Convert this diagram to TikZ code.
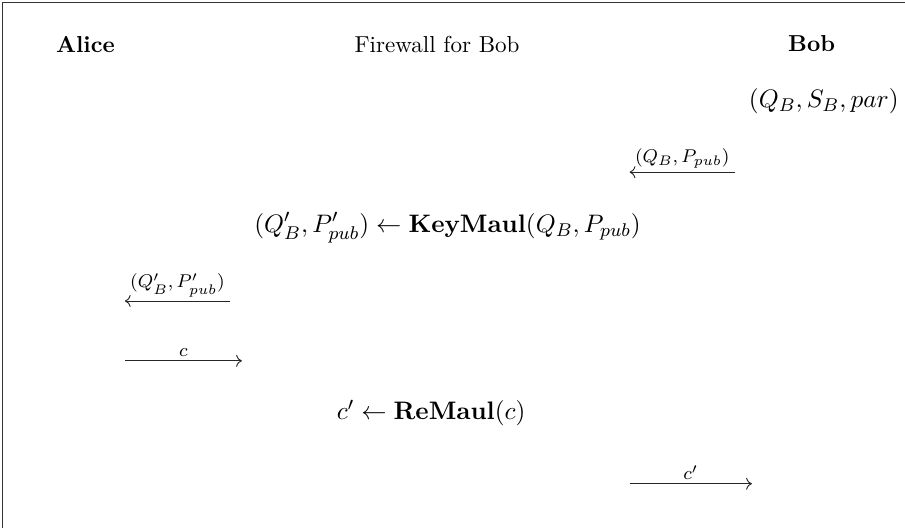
\documentclass[tikz,border=0pt]{standalone}
\usepackage{amsmath,amssymb}
\usepackage{tikz}
\usetikzlibrary{arrows.meta,positioning,calc}
\tikzset{
  party/.style={font=\bfseries,inner sep=2pt},
  calcline/.style={font=\fontsize{11.2}{13}\selectfont,inner sep=2pt},
  msg/.style={->,draw=black!85,thin},
  msglbl/.style={font=\footnotesize,above,inner sep=1.5pt},
}
\begin{document}
\begin{tikzpicture}
  \useasboundingbox (0,0) rectangle (13.77,-8.02);
  \draw[black!80,thin] (0.03,-8.1) -- (0.03,-0.03) -- (13.9,-0.03);
  % parties
  \node[party] (alice) at (1.30,-0.67) {Alice};
  \node[inner sep=2pt] (fw) at (6.65,-0.67) {Firewall for Bob};
  \node[party] (bob) at (12.35,-0.67) {Bob};
  \node[calcline,anchor=east] (keys) at (13.75,-1.54) {$(Q_B,S_B,par)$};
  % computations
  \node[calcline] (keymaul) at (6.81,-3.47) {$(Q'_B,P'_{pub})\leftarrow\mathbf{KeyMaul}(Q_B,P_{pub})$};
  \node[calcline] (remaul) at (6.56,-6.28) {$c'\leftarrow\mathbf{ReMaul}(c)$};
  % messages
  \foreach \n/\a/\b/\y/\t in {m1/11.18/9.58/-2.62/{$(Q_B,P_{pub})$}, m2/3.50/1.90/-4.58/{$(Q'_B,P'_{pub})$},
    m3/1.90/3.68/-5.49/{$c$}, m4/9.58/11.44/-7.36/{$c'$}}{
    \coordinate (\n s) at (\a,\y);
    \coordinate (\n e) at (\b,\y);
    \draw[msg] (\n s) -- node[msglbl] {\t} (\n e);}
\end{tikzpicture}
\end{document}
